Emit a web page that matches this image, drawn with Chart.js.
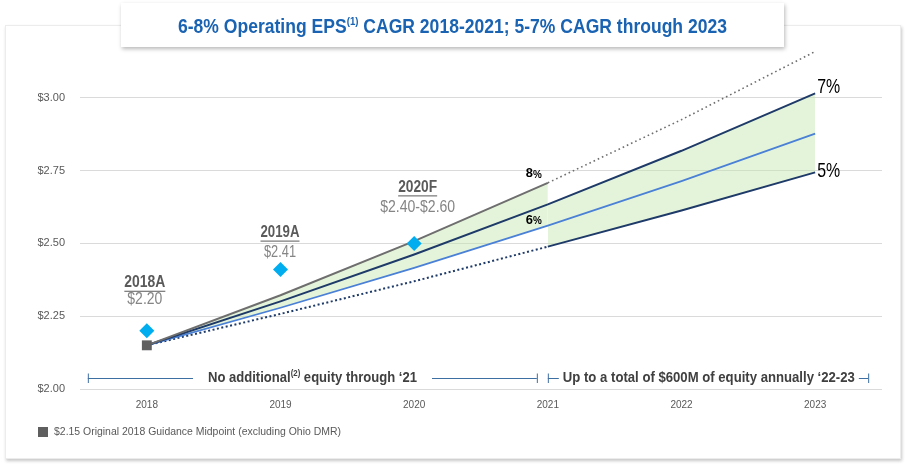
<!DOCTYPE html>
<html>
<head>
<meta charset="utf-8">
<script src="https://cdn.jsdelivr.net/npm/chart.js@4.4.1/dist/chart.umd.min.js"></script>
<style>
  html,body{margin:0;padding:0;background:#fff;}
  #wrap{position:relative;width:911px;height:466px;overflow:hidden;background:#fff;font-family:"Liberation Sans",Arial,sans-serif;}
  #card{position:absolute;left:5px;top:25px;width:894px;height:432px;background:#fff;border:1px solid #ececec;box-shadow:1px 2px 3px rgba(0,0,0,0.22);}
  #cv{position:absolute;left:0;top:0;width:911px;height:466px;}
  #title{position:absolute;left:121px;top:3px;width:663px;height:44px;background:#fff;box-shadow:1px 2px 4px rgba(0,0,0,0.28);}
  #titleText{position:absolute;left:0;top:12px;white-space:nowrap;font-weight:bold;font-size:20px;line-height:22px;color:#1a63b2;transform-origin:0 50%;}
  #titleText sup{font-size:11px;line-height:0;vertical-align:0;position:relative;top:-8px;}
  #legSq{position:absolute;left:38px;top:427px;width:10px;height:10px;background:#5f5f5f;}
  #legText{position:absolute;left:54px;top:424px;white-space:nowrap;font-size:11px;line-height:14px;color:#595959;transform-origin:0 50%;}
</style>
</head>
<body>
<div id="wrap">
  <div id="card"></div>
  <div id="chartBox" style="position:absolute;left:0;top:0;width:911px;height:466px;"><canvas id="cv"></canvas></div>
  <div id="title"><span id="titleText">6-8% Operating EPS<sup>(1)</sup> CAGR 2018-2021; 5-7% CAGR through 2023</span></div>
  <div id="legSq"></div>
  <div id="legText">$2.15 Original 2018 Guidance Midpoint (excluding Ohio DMR)</div>
</div>
<script>
// ---- data ----
const years = ['2018', '2019', '2020', '2021', '2022', '2023'];
const actualEps = [2.20, 2.41, 2.50, null, null, null];
const guidanceMidpoint = [2.15, null, null, null, null, null];
const cagr8Solid = [2.15, 2.322, 2.508, 2.708, null, null];
const cagr8Dotted = [null, null, null, 2.708, 2.925, 3.159];
const cagr7 = [2.15, 2.301, 2.462, 2.634, 2.818, 3.015];
const cagr6 = [2.15, 2.279, 2.416, 2.561, 2.714, 2.877];
const cagr5Dotted = [2.15, 2.258, 2.370, 2.489, null, null];
const cagr5Solid = [null, null, null, 2.489, 2.613, 2.744];
const pointTitles = ['2018A', '2019A', '2020F'];
const pointValues = ['$2.20', '$2.41', '$2.40-$2.60'];
const rangeTexts = ['No additional', '(2)', ' equity through \u201821', 'Up to a total of $600M of equity annually \u201822-23'];
const yTicks = [2.00, 2.25, 2.50, 2.75, 3.00];

// fit HTML texts
function fitEl(id, w){
  const el = document.getElementById(id);
  const nat = el.getBoundingClientRect().width;
  el.style.transform = 'scaleX(' + (w / nat) + ')';
  return el;
}
const tt = fitEl('titleText', 549);
tt.style.left = (178 - 121) + 'px';
fitEl('legText', 287);

const FONT = '"Liberation Sans", Arial, sans-serif';

function drawFit(ctx, parts, x, y, targetW, align){
  let nat = 0;
  parts.forEach(p => { ctx.font = p.font; p.w = ctx.measureText(p.t).width; nat += p.w; });
  const s = Math.min(1, targetW / nat);
  const total = nat * s;
  let x0 = align === 'center' ? x - total / 2 : (align === 'right' ? x - total : x);
  ctx.save();
  ctx.translate(x0, y);
  ctx.scale(s, 1);
  ctx.textAlign = 'left';
  ctx.textBaseline = 'middle';
  let cx = 0;
  parts.forEach(p => { ctx.font = p.font; ctx.fillText(p.t, cx, p.dy || 0); cx += p.w; });
  ctx.restore();
  return {left: x0, right: x0 + total};
}

const annotations = {
  id: 'annotations',
  afterDatasetsDraw(chart){
    const {ctx, scales: {x, y}} = chart;
    ctx.save();
    const tOff = [[-2, -48, 41, -31, 35], [-0.5, -37, 39, -17, 32], [3.5, -56, 39, -36, 75]];
    pointTitles.forEach((t, i) => {
      const px = x.getPixelForValue(i) + tOff[i][0];
      const py = y.getPixelForValue(actualEps[i]);
      ctx.fillStyle = '#5a5a5a';
      const r = drawFit(ctx, [{t, font: 'bold 16px ' + FONT}], px, py + tOff[i][1], tOff[i][2], 'center');
      ctx.strokeStyle = '#5a5a5a'; ctx.lineWidth = 1;
      ctx.beginPath(); ctx.moveTo(r.left, py + tOff[i][1] + 8.5); ctx.lineTo(r.right, py + tOff[i][1] + 8.5); ctx.stroke();
      ctx.fillStyle = '#858585';
      drawFit(ctx, [{t: pointValues[i], font: '16px ' + FONT}], px, py + tOff[i][3], tOff[i][4], 'center');
    });
    ctx.fillStyle = '#000';
    const x21 = x.getPixelForValue(3), x23 = x.getPixelForValue(5);
    drawFit(ctx, [{t: '8', font: 'bold 13px ' + FONT}, {t: '%', font: 'bold 10px ' + FONT, dy: 1}], x21 - 14, y.getPixelForValue(cagr8Solid[3]) - 9, 16, 'center');
    drawFit(ctx, [{t: '6', font: 'bold 13px ' + FONT}, {t: '%', font: 'bold 10px ' + FONT, dy: 1}], x21 - 14, y.getPixelForValue(cagr6[3]) - 5, 16, 'center');
    drawFit(ctx, [{t: '7%', font: '21px ' + FONT}], x23 + 2, y.getPixelForValue(cagr7[5]) - 6, 23, 'left');
    drawFit(ctx, [{t: '5%', font: '21px ' + FONT}], x23 + 2, y.getPixelForValue(cagr5Solid[5]) - 1.5, 23, 'left');
    const ry = 378;
    const lineC = '#3d6fa3';
    ctx.strokeStyle = lineC; ctx.lineWidth = 1;
    const seg = (a, b) => { ctx.beginPath(); ctx.moveTo(a, ry + 0.5); ctx.lineTo(b, ry + 0.5); ctx.stroke(); };
    const tick = (a) => { ctx.beginPath(); ctx.moveTo(a + 0.5, ry - 4.5); ctx.lineTo(a + 0.5, ry + 5); ctx.stroke(); };
    const x18 = x.getPixelForValue(0);
    const a1 = x18 - 59, b1 = x21 - 11;
    tick(a1); tick(b1);
    ctx.fillStyle = '#404040';
    const f = 'bold 15px ' + FONT;
    const r1 = drawFit(ctx, [{t: rangeTexts[0], font: f}, {t: rangeTexts[1], font: 'bold 9px ' + FONT, dy: -4}, {t: rangeTexts[2], font: f}], 312.5, ry, 209, 'center');
    seg(a1, r1.left - 15); seg(r1.right + 15, b1);
    const a2 = x21 + 0, b2 = x23 + 53;
    tick(a2); tick(b2);
    const r2 = drawFit(ctx, [{t: rangeTexts[3], font: f}], a2 + 15, ry, 292, 'left');
    seg(a2, r2.left - 4); seg(r2.right + 4, b2);
    ctx.restore();
  }
};

const navy = '#1e3a68';
const fillGreen = 'rgba(196,230,172,0.45)';

new Chart(document.getElementById('cv'), {
  type: 'line',
  data: {
    labels: years,
    datasets: [
      {label: 'Actual', data: actualEps, showLine: false, pointStyle: 'rectRot', pointRadius: 7.5, backgroundColor: '#00aeef', borderColor: '#00aeef', borderWidth: 0},
      {label: 'Guidance', data: guidanceMidpoint, showLine: false, pointStyle: 'rect', pointRadius: 7, backgroundColor: '#5f5f5f', borderColor: '#5f5f5f', borderWidth: 0},
      {label: '8%', data: cagr8Solid, borderColor: '#6e6e6e', borderWidth: 2, pointRadius: 0, fill: {target: 5}, backgroundColor: fillGreen},
      {label: '8% ext', data: cagr8Dotted, borderColor: '#6e6e6e', borderWidth: 1.6, borderDash: [1.6, 3], pointRadius: 0, fill: false},
      {label: '7%', data: cagr7, borderColor: navy, borderWidth: 2, pointRadius: 0, fill: {target: 7}, backgroundColor: fillGreen},
      {label: '6%', data: cagr6, borderColor: '#4a80d6', borderWidth: 1.8, pointRadius: 0, fill: false},
      {label: '5% dotted', data: cagr5Dotted, borderColor: navy, borderWidth: 2, borderDash: [2, 2.5], pointRadius: 0, fill: false},
      {label: '5%', data: cagr5Solid, borderColor: navy, borderWidth: 2, pointRadius: 0, fill: false}
    ]
  },
  options: {
    responsive: true,
    maintainAspectRatio: false,
    animation: false,
    events: [],
    layout: {padding: {top: 25, right: 29, left: 0, bottom: 0}},
    plugins: {legend: {display: false}, tooltip: {enabled: false}, filler: {drawTime: 'beforeDatasetsDraw'}},
    elements: {line: {tension: 0}},
    scales: {
      x: {
        offset: true,
        grid: {display: false, drawTicks: false},
        border: {display: false},
        ticks: {color: '#595959', font: {family: FONT, size: 10}, padding: 10, autoSkip: false, maxRotation: 0},
        afterFit(s){ s.height = 77; }
      },
      y: {
        min: 2, max: 3.25,
        afterBuildTicks(s){ s.ticks = yTicks.map(v => ({value: v})); },
        grid: {color: '#dadada', lineWidth: 1, drawTicks: false},
        border: {display: false},
        ticks: {color: '#595959', font: {family: FONT, size: 11}, padding: 15, callback: v => '$' + Number(v).toFixed(2)},
        afterFit(s){ s.width = 80; }
      }
    }
  },
  plugins: [annotations]
});
</script>
</body>
</html>
